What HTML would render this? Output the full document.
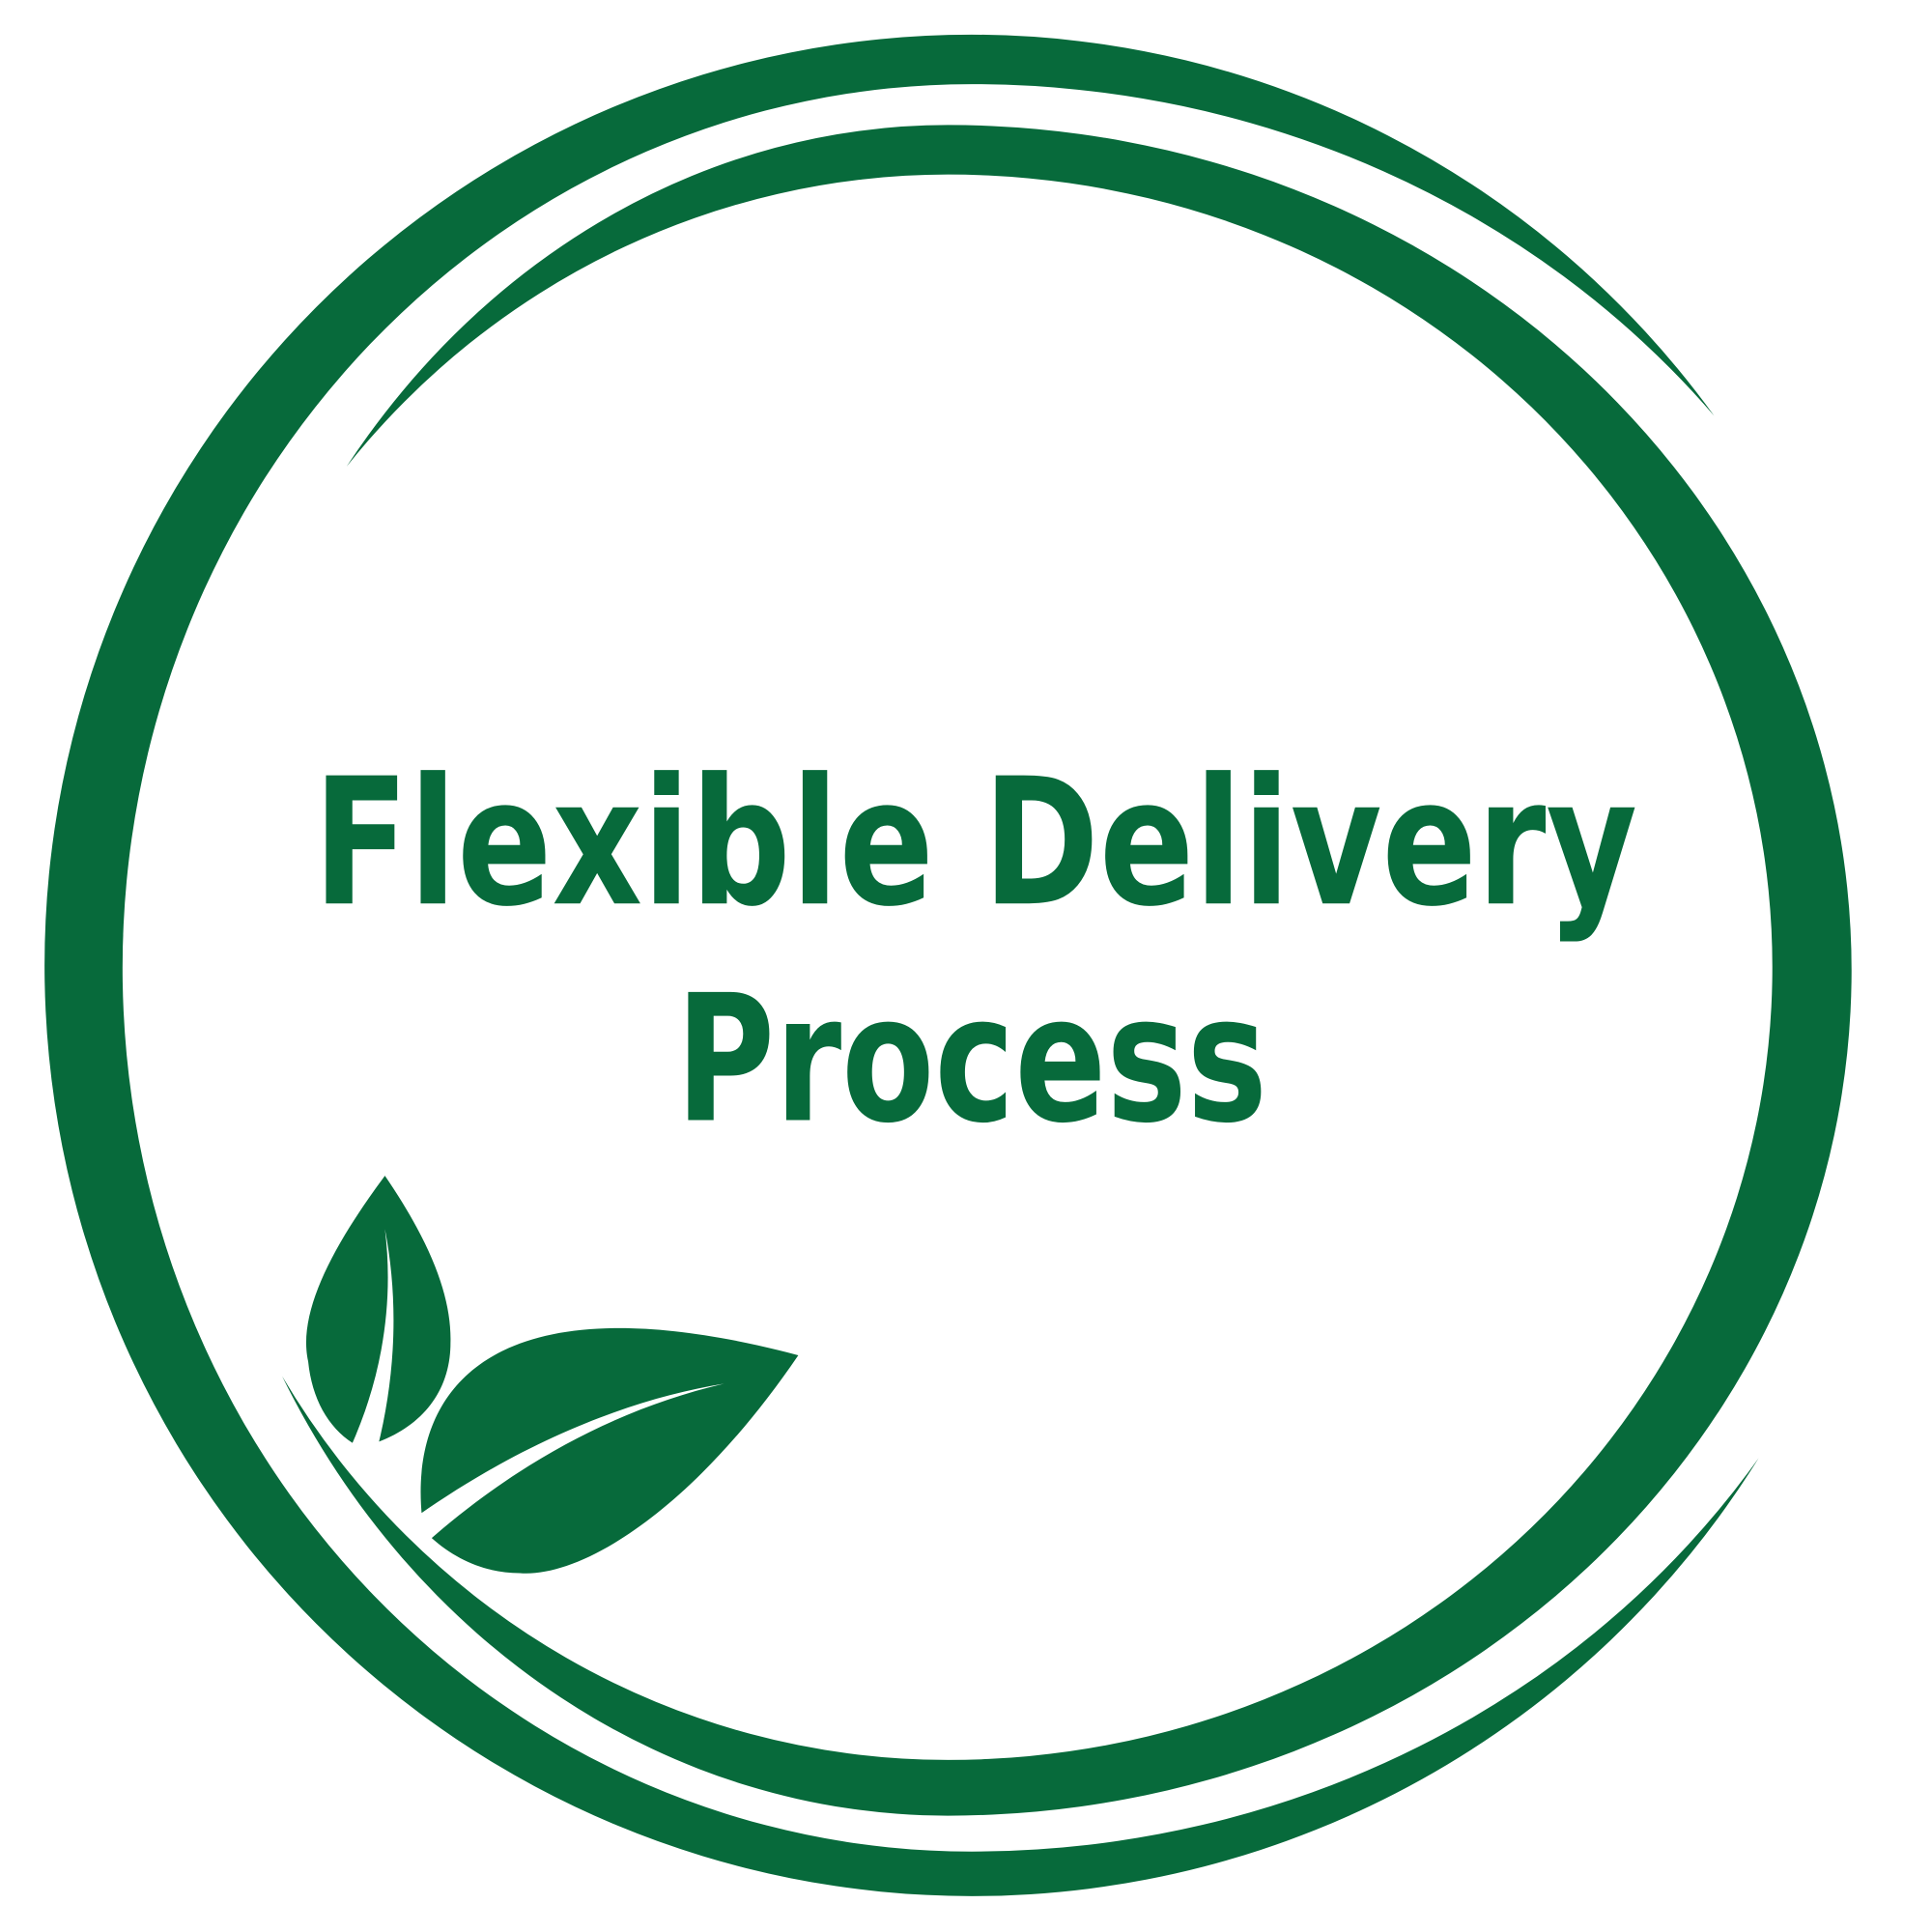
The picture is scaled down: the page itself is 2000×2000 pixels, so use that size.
<!DOCTYPE html>
<html><head><meta charset="utf-8"><style>html,body{margin:0;padding:0;background:#fff}svg{display:block}</style></head>
<body>
<svg width="2000" height="2000" viewBox="0 0 1561 1561" xmlns="http://www.w3.org/2000/svg">
<g fill="#076a3b">
<path d="M280,377 A605,683 0 0,1 766,101 A730,683 0 0,1 1496,784 A730,683 0 0,1 766,1467 A613,683 0 0,1 228,1112 A628,640 0 0,0 766,1422 A666,640 0 0,0 1432,782 A666,640 0 0,0 766,141 A627,640 0 0,0 280,377 Z"/>
<path d="M1385,336 A744,752 0 0,0 785,28 A749,752 0 0,0 36,780 A749,752 0 0,0 785,1532 A749,752 0 0,0 1421,1178 A764,714 0 0,1 785,1496 A686,714 0 0,1 99,782 A686,714 0 0,1 785,68 A768,714 0 0,1 1385,336 Z"/>
<path d="M311,950 C270,1005 240,1060 249,1100 C252,1130 265,1153 285,1166 L303,1166 C340,1153 364,1125 364,1085 C365,1050 350,1007 311,950 Z"/>
<path d="M341,1226 C330,1120 400,1030 645,1095 C560,1220 470,1275 420,1271 C395,1271 370,1262 348,1242 Z"/>
</g>
<g fill="#fff">
<path d="M311,993 C318,1050 310,1110 283,1170 L305,1170 C320,1110 322,1050 311,993 Z"/>
<path d="M330,1230 C420,1165 510,1130 585,1118 C500,1138 420,1180 345,1246 Z"/>
</g>
<g fill="#076a3b" font-family="DejaVu Sans, Liberation Sans, sans-serif" font-weight="bold" font-size="142">
<text x="253" y="730" textLength="1070" lengthAdjust="spacingAndGlyphs">Flexible Delivery</text>
<text x="546" y="905" textLength="478" lengthAdjust="spacingAndGlyphs">Process</text>
</g>
</svg>
</body></html>
